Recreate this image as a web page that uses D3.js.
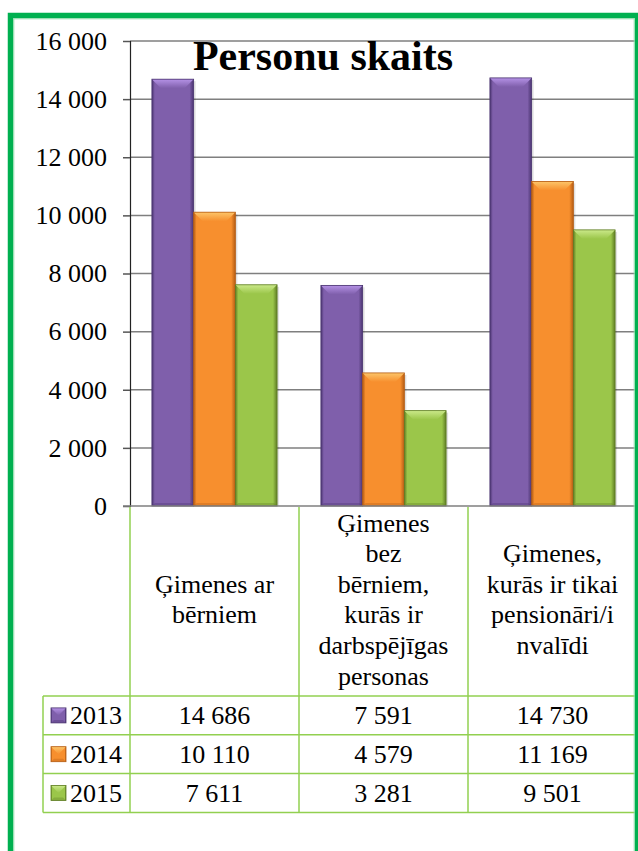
<!DOCTYPE html>
<html>
<head>
<meta charset="utf-8">
<script src="https://cdn.jsdelivr.net/npm/d3@7"></script>
<style>
    body { margin: 0; background: #fff; }
</style>
</head>
<body>
<div id="chartContainer"></div>
<script>
const title = 'Personu skaits';
const categories = ['Ģimenes ar bērniem', 'Ģimenes bez bērniem, kurās ir darbspējīgas personas', 'Ģimenes, kurās ir tikai pensionāri/invalīdi'];
// category labels as wrapped in the table header
const categoryLines = [
    ['Ģimenes ar', 'bērniem'],
    ['Ģimenes', 'bez', 'bērniem,', 'kurās ir', 'darbspējīgas', 'personas'],
    ['Ģimenes,', 'kurās ir tikai', 'pensionāri/i', 'nvalīdi']
];
const years = ['2013', '2014', '2015'];
const values2013 = [14686, 7591, 14730];
const values2014 = [10110, 4579, 11169];
const values2015 = [7611, 3281, 9501];
const yTicks = [0, 2000, 4000, 6000, 8000, 10000, 12000, 14000, 16000];

const seriesValues = [values2013, values2014, values2015];
const palette = [
    { main: '#7f5fab', dark: '#4a3470', light: '#b592e6' },
    { main: '#f78f2e', dark: '#b55d14', light: '#fdc66a' },
    { main: '#9bc64a', dark: '#5f7d24', light: '#cbe98a' }
];

const W = 638, H = 851;
const plotLeft = 130, plotRight = 637, plotTop = 41, plotBottom = 506;
const headerBottom = 696, rowH = 38.8, legendLeft = 43;
const tableColor = '#92d050';
const fontSize = 26;
const serif = "'Liberation Serif', 'Times New Roman', 'DejaVu Serif', serif";

const locale = d3.formatLocale({ decimal: ',', thousands: ' ', grouping: [3], currency: ['', ''] });
const fmt = locale.format(',d');

const svg = d3.select('#chartContainer').append('svg')
    .attr('width', W).attr('height', H)
    .style('display', 'block');

const defs = svg.append('defs');
palette.forEach((c, i) => {
    const g = defs.append('linearGradient').attr('id', 'body' + i)
        .attr('x1', 0).attr('x2', 1).attr('y1', 0).attr('y2', 0);
    g.append('stop').attr('offset', '0%').attr('stop-color', c.dark);
    g.append('stop').attr('offset', '7%').attr('stop-color', c.main);
    g.append('stop').attr('offset', '90%').attr('stop-color', c.main);
    g.append('stop').attr('offset', '100%').attr('stop-color', c.dark);
    const t = defs.append('linearGradient').attr('id', 'top' + i)
        .attr('x1', 0).attr('x2', 0).attr('y1', 0).attr('y2', 1);
    t.append('stop').attr('offset', '0%').attr('stop-color', c.light);
    t.append('stop').attr('offset', '100%').attr('stop-color', c.main);
});

const y = d3.scaleLinear().domain([0, 16000]).range([plotBottom, plotTop]);
const x0 = d3.scaleBand().domain(categories).range([plotLeft, plotRight]).padding(0);
const x1 = d3.scaleBand().domain(years).range([0, x0.bandwidth()])
    .paddingInner(0).paddingOuter(0.525);

function addText(parent) {
    return parent.append('text')
        .attr('font-family', serif)
        .attr('font-size', fontSize)
        .attr('fill', '#000');
}

// gridlines
svg.append('g')
    .selectAll('line')
    .data(yTicks.filter(d => d > 0))
    .enter().append('line')
    .attr('x1', plotLeft).attr('x2', plotRight - 2)
    .attr('y1', d => y(d)).attr('y2', d => y(d))
    .attr('stroke', '#7f7f7f').attr('stroke-width', 1.5);

// title
addText(svg)
    .attr('x', 323).attr('y', 70)
    .attr('text-anchor', 'middle')
    .attr('font-size', 42).attr('font-weight', 'bold')
    .text(title);

// y axis
const yAxis = svg.append('g')
    .attr('transform', `translate(${plotLeft},0)`)
    .call(d3.axisLeft(y).tickValues(yTicks).tickFormat(fmt).tickSize(7).tickPadding(16));
yAxis.attr('font-family', serif).attr('font-size', fontSize);
yAxis.select('.domain').attr('stroke', '#222').attr('stroke-width', 1.2);
yAxis.selectAll('.tick line').attr('stroke', '#555').attr('stroke-width', 1.5);
yAxis.selectAll('.tick text')
    .attr('font-family', serif)
    .attr('font-size', fontSize)
    .attr('fill', '#000');

function drawBevelBar(g, bx, by, bw, bh, i) {
    const c = palette[i];
    const b = Math.min(9, bh / 2);
    g.append('rect').attr('x', bx).attr('y', by).attr('width', bw).attr('height', bh)
        .attr('fill', `url(#body${i})`);
    g.append('polygon')
        .attr('points', [[bx, by], [bx + bw, by], [bx + bw - b, by + b], [bx + b, by + b]].join(' '))
        .attr('fill', `url(#top${i})`);
    g.append('polygon')
        .attr('points', [[bx, by + bh], [bx + bw, by + bh], [bx + bw - 3, by + bh - 3], [bx + 3, by + bh - 3]].join(' '))
        .attr('fill', c.dark).attr('opacity', 0.35);
    g.append('rect').attr('x', bx).attr('y', by).attr('width', bw).attr('height', bh)
        .attr('fill', 'none').attr('stroke', c.dark).attr('stroke-width', 0.8);
}

// bars
const barsG = svg.append('g');
categories.forEach((cat, ci) => {
    years.forEach((yr, si) => {
        const v = seriesValues[si][ci];
        const bx = x0(cat) + x1(yr);
        // soft shadow
        barsG.append('rect')
            .attr('x', bx + 2).attr('y', y(v) + 2)
            .attr('width', x1.bandwidth()).attr('height', plotBottom - y(v) - 2)
            .attr('fill', '#000').attr('opacity', 0.12);
        drawBevelBar(barsG, bx, y(v), x1.bandwidth(), plotBottom - y(v), si);
    });
});

// baseline
svg.append('line')
    .attr('x1', plotLeft - 7).attr('x2', plotRight - 2)
    .attr('y1', plotBottom).attr('y2', plotBottom)
    .attr('stroke', '#7f7f7f').attr('stroke-width', 1.5);

// data table
const table = svg.append('g');
const tableBottom = headerBottom + rowH * years.length;

x0.domain().forEach(cat => {
    table.append('line')
        .attr('x1', x0(cat)).attr('x2', x0(cat))
        .attr('y1', plotBottom + 1).attr('y2', tableBottom)
        .attr('stroke', tableColor).attr('stroke-width', 1.5);
});
table.append('line')
    .attr('x1', legendLeft).attr('x2', legendLeft)
    .attr('y1', headerBottom).attr('y2', tableBottom)
    .attr('stroke', tableColor).attr('stroke-width', 1.5);
d3.range(years.length + 1).forEach(r => {
    const ly = headerBottom + r * rowH;
    table.append('line')
        .attr('x1', legendLeft).attr('x2', plotRight - 2)
        .attr('y1', ly).attr('y2', ly)
        .attr('stroke', tableColor).attr('stroke-width', 1.5);
});

// category headers
categories.forEach((cat, ci) => {
    const lines = categoryLines[ci];
    const cx = x0(cat) + x0.bandwidth() / 2;
    const lh = 30.6;
    const midY = (plotBottom + headerBottom) / 2;
    const firstBase = midY - (lines.length - 1) * lh / 2 + 7;
    const t = addText(table).attr('text-anchor', 'middle');
    lines.forEach((ln, li) => {
        t.append('tspan').attr('x', cx).attr('y', firstBase + li * lh).text(ln);
    });
});

// rows
years.forEach((yr, si) => {
    const rowMid = headerBottom + si * rowH + rowH / 2;
    const lg = table.append('g');
    drawBevelBar(lg, 51, rowMid - 7.5, 15, 15, si);
    addText(table)
        .attr('x', 70).attr('y', rowMid + 9)
        .text(yr);
    categories.forEach((cat, ci) => {
        addText(table)
            .attr('x', x0(cat) + x0.bandwidth() / 2).attr('y', rowMid + 9)
            .attr('text-anchor', 'middle')
            .text(fmt(seriesValues[si][ci]));
    });
});

// outer frame
svg.append('rect')
    .attr('x', 10.5).attr('y', 15.5)
    .attr('width', 627).attr('height', 900)
    .attr('fill', 'none')
    .attr('stroke', '#00b050').attr('stroke-width', 5.5);
svg.append('rect')
    .attr('x', 13.8).attr('y', 18.8)
    .attr('width', 620.4).attr('height', 900)
    .attr('fill', 'none')
    .attr('stroke', '#8fdcaa').attr('stroke-width', 1);
</script>
</body>
</html>
